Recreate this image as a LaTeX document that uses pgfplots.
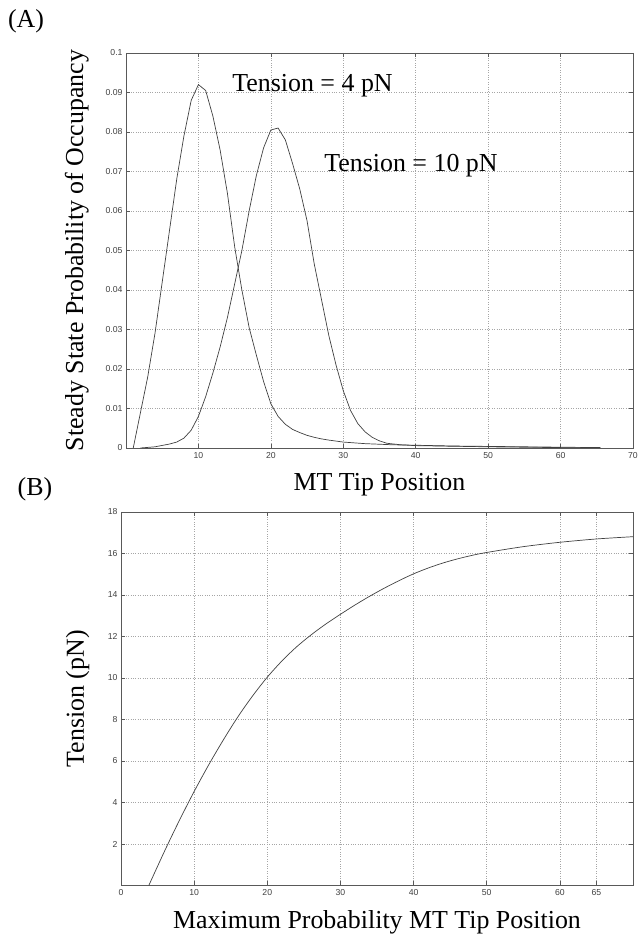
\documentclass[border=0pt]{standalone}
\usepackage{pgfplots}
\pgfplotsset{compat=1.18}
\usepackage{fontspec}
\setmainfont{Liberation Serif}
\newfontfamily\ticksf{Liberation Sans}
\definecolor{axgray}{gray}{0.35}
\definecolor{curve}{gray}{0.25}
\definecolor{gridc}{gray}{0.65}
\pgfplotsset{
  mstyle/.style={
    scale only axis,
    axis line style={axgray, line width=0.6bp},
    tick style={axgray, line width=0.5bp, major tick length=4bp},
    tick align=inside,
    xtick pos=both, ytick pos=both,
    grid=major,
    major grid style={gridc, dotted, line width=0.5bp},
    scaled ticks=false,
    /pgf/number format/assume math mode=true,
    ticklabel style={font=\ticksf\fontsize{8.7}{9}\selectfont, text=black!75},
    xticklabel style={yshift=-0.5bp},
    label style={font=\fontsize{26}{30}\selectfont},
  }
}
\begin{document}
\begin{tikzpicture}
\useasboundingbox (0,0) rectangle (638bp,934bp);
\node[font=\fontsize{26}{30}\selectfont] at (26bp,913bp) {(A)};
\node[font=\fontsize{26}{30}\selectfont] at (35bp,445bp) {(B)};
\begin{axis}[mstyle,
  at={(126bp,486bp)}, anchor=south west,
  width=507bp, height=395bp,
  xmin=0, xmax=70, ymin=0, ymax=0.1,
  xtick={10,20,30,40,50,60,70},
  ytick={0,0.01,0.02,0.03,0.04,0.05,0.06,0.07,0.08,0.09,0.1},
  yticklabels={0,0.01,0.02,0.03,0.04,0.05,0.06,0.07,0.08,0.09,0.1},
  xlabel={MT Tip Position},
  ylabel={Steady State Probability of Occupancy},
  xlabel style={at={(axis description cs:0.5,0)}, anchor=base, yshift=-43bp},
  ylabel style={at={(axis description cs:-0.0848,0.5)}, anchor=base, rotate=0},
]
\addplot[curve, line width=0.7bp] coordinates {
(1,0) (2,0.009) (3,0.018) (4,0.029) (5,0.042) (6,0.055) (7,0.068) (8,0.079)
(9,0.088) (10,0.092) (11,0.0905) (12,0.084) (13,0.0754) (14,0.0645) (15,0.051)
(16,0.040) (17,0.0305) (18,0.0235) (19,0.0168) (20,0.0112) (21,0.0080) (22,0.0060)
(23,0.0047) (24,0.0039) (25,0.0032) (26,0.0027) (27,0.0023) (28,0.0020)
(30,0.0015) (33,0.0011) (37,0.0008) (40,0.0007) (45,0.0005) (50,0.0004)
(55,0.0003) (60,0.0002) (65.5,0.0001)
};
\addplot[curve, line width=0.7bp] coordinates {
(2,0) (4,0.0003) (6,0.001) (7,0.0015) (8,0.0025) (9,0.0045) (10,0.008)
(11,0.013) (12,0.019) (13,0.0256) (14,0.033) (15,0.0415) (16,0.050) (17,0.060)
(18,0.069) (19,0.076) (20,0.0805) (21,0.081) (22,0.078) (23,0.072) (24,0.0655)
(25,0.0575) (26,0.0465) (27,0.0375) (28,0.0285) (29,0.021) (30,0.0145) (31,0.0095)
(32,0.0062) (33,0.0041) (34,0.0027) (35,0.0018) (36,0.0012) (38,0.0008)
(40,0.0006) (50,0.0003) (60,0.0001) (65.5,0)
};
\node[anchor=base west, font=\fontsize{26}{30}\selectfont] at (axis cs:14.2,0.0902) {Tension = 4 pN};
\node[anchor=base west, font=\fontsize{26}{30}\selectfont] at (axis cs:26.9,0.0699) {Tension = 10 pN};
\end{axis}
\begin{axis}[mstyle,
  at={(121bp,48.5bp)}, anchor=south west,
  width=512bp, height=373.5bp,
  xmin=0, xmax=70, ymin=0, ymax=18,
  xtick={0,10,20,30,40,50,60,65},
  ytick={2,4,6,8,10,12,14,16,18},
  xlabel={Maximum Probability MT Tip Position},
  ylabel={Tension (pN)},
  xlabel style={at={(axis description cs:0.5,0)}, anchor=base, yshift=-42.5bp},
  ylabel style={at={(axis description cs:-0.0723,0.5)}, anchor=base, rotate=0},
]
\addplot[curve, line width=0.7bp, smooth, tension=0.5] coordinates {
(3.8,0) (6,1.69) (8,3.15) (10,4.53) (12,5.82) (14,7.02) (16,8.14) (18,9.14)
(20,10.04) (22,10.82) (24,11.5) (26,12.08) (28,12.6) (30,13.07) (32,13.52)
(34,13.94) (36,14.33) (38,14.69) (40,15.02) (42,15.3) (44,15.54) (46,15.74)
(48,15.91) (50,16.05) (55,16.33) (60,16.54) (65,16.7) (70,16.81)
};
\end{axis}
\end{tikzpicture}
\end{document}
